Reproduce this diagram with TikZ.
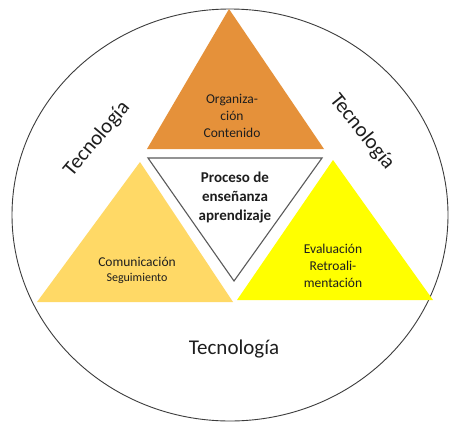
\documentclass[tikz,border=0pt]{standalone}
\usepackage{fontspec}
\setmainfont{Carlito}
\definecolor{orangeT}{RGB}{229,145,58}
\definecolor{goldT}{RGB}{255,217,102}
\definecolor{yellowT}{RGB}{255,255,0}
\definecolor{txt}{RGB}{30,30,30}
\begin{document}
\begin{tikzpicture}[x=1pt,y=-1pt,
  lbl/.style={align=center,text=txt,font=\fontsize{13.5}{17}\selectfont,inner sep=0pt},
  tec/.style={text=txt,font=\fontsize{21}{24}\selectfont,inner sep=0pt}]
\useasboundingbox (0,0) rectangle (449,423);
\clip (0,0) rectangle (449,423);
\fill[white] (0,0) rectangle (449,423);
\draw[line width=0.9pt,draw={rgb,255:red,60;green,60;blue,60}] (230,215) ellipse [x radius=218, y radius=206];
% top triangle
\fill[orangeT] (229,9) -- (324,149) -- (147,149) -- cycle;
% inverted centre triangle
\draw[line width=1.1pt,draw={rgb,255:red,90;green,90;blue,90},fill=white] (148,158) -- (322,158) -- (234,281) -- cycle;
% left triangle
\fill[goldT] (140,162) -- (233,302) -- (37,302) -- cycle;
% right triangle
\fill[yellowT] (333,160) -- (433,300) -- (237,300) -- cycle;
% labels
\node[lbl] (org) at (232,116) {Organiza-\\ción\\Contenido};
\node[lbl,font=\fontsize{15}{19}\selectfont\bfseries] (proc) at (235,198) {Proceso de\\enseñanza\\aprendizaje};
\node[lbl] (com) at (137,262) {Comunicación};
\node[lbl,font=\fontsize{12}{15}\selectfont] (seg) at (137,278) {Seguimiento};
\node[lbl] (eva) at (333,266) {Evaluación\\Retroali-\\mentación};
\node[tec] (t1) at (234,349) {Tecnología};
\node[tec,rotate=50] (t2) at (97,139) {Tecnología};
\node[tec,rotate=-51] (t3) at (362,132) {Tecnología};
\end{tikzpicture}
\end{document}
